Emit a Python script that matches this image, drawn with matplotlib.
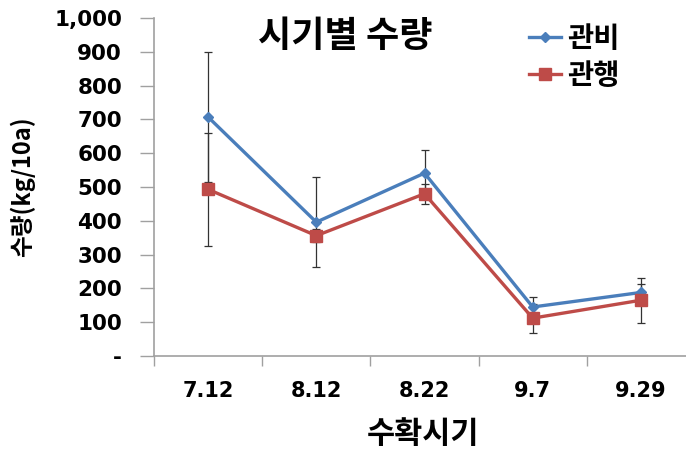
import matplotlib
matplotlib.use("Agg")
import matplotlib.pyplot as plt
from matplotlib.ticker import FuncFormatter

categories = ["7.12", "8.12", "8.22", "9.7", "9.29"]
gwanbi = [707, 396, 541, 145, 188]
gwanbi_err = [191, 133, 67, 31, 26]
gwanhaeng = [493, 356, 480, 112, 165]
gwanhaeng_err = [168, 20, 30, 43, 66]
yticks = [0, 100, 200, 300, 400, 500, 600, 700, 800, 900, 1000]

KR = ['Noto Sans CJK KR', 'DejaVu Sans']
blue = '#4A7EBB'
red = '#BE4B48'
axis_gray = '#A0A0A0'

fig = plt.figure(figsize=(6.86, 4.51), dpi=100)
ax = fig.add_axes([154/686, 1-356/451, (695-154)/686, (356-18)/451])

x = list(range(len(categories)))
ax.errorbar(x, gwanbi, yerr=gwanbi_err, fmt='none', ecolor='#333333',
            elinewidth=0.9, capsize=3, capthick=0.9, zorder=2)
ax.errorbar(x, gwanhaeng, yerr=gwanhaeng_err, fmt='none', ecolor='#333333',
            elinewidth=0.9, capsize=3, capthick=0.9, zorder=2)
ax.plot(x, gwanbi, color=blue, lw=2.4, marker='D', ms=5.5, label='관비', zorder=3)
ax.plot(x, gwanhaeng, color=red, lw=2.4, marker='s', ms=8, label='관행', zorder=3)

ax.set_xlim(-0.5, len(categories) - 0.5)
ax.set_ylim(0, 1000)
ax.set_xticks([i - 0.5 for i in range(len(categories) + 1)])
ax.set_xticklabels([])
ax.set_xticks(x, minor=True)
ax.set_xticklabels(categories, minor=True)
ax.tick_params(axis='x', which='major', length=7, color=axis_gray, width=1)
ax.tick_params(axis='x', which='minor', length=0, pad=18)
for lab in ax.get_xticklabels(minor=True):
    lab.set_fontsize(15)
    lab.set_fontweight('bold')
    lab.set_family('DejaVu Sans')

ax.set_yticks(yticks)
ax.yaxis.set_major_formatter(FuncFormatter(lambda v, p: '-' if v == 0 else f'{int(v):,}'))
ax.tick_params(axis='y', length=10, color=axis_gray, width=1, pad=13)
for lab in ax.get_yticklabels():
    lab.set_fontsize(15.5)
    lab.set_fontweight('bold')

for s in ['top', 'right']:
    ax.spines[s].set_visible(False)
for s in ['left', 'bottom']:
    ax.spines[s].set_color(axis_gray)
    ax.spines[s].set_linewidth(1.2)

fig.text(22/686, 1-187/451, '수량(kg/10a)', rotation=90, ha='center', va='center',
         fontsize=17, fontweight='bold', family=KR)
fig.text(423/686, 1-434/451, '수확시기', ha='center', va='center',
         fontsize=22, fontweight='bold', family=KR)
fig.text(345/686, 1-36/451, '시기별 수량', ha='center', va='center',
         fontsize=26, fontweight='bold', family=KR)

leg = ax.legend(loc='upper left', bbox_to_anchor=(515/686, 1-11/451),
                bbox_transform=fig.transFigure, frameon=False,
                prop={'family': KR, 'weight': 'bold', 'size': 20.5},
                handlelength=1.1, handletextpad=0.25, labelspacing=0.3,
                borderpad=0)

fig.savefig('out.png', dpi=100)
